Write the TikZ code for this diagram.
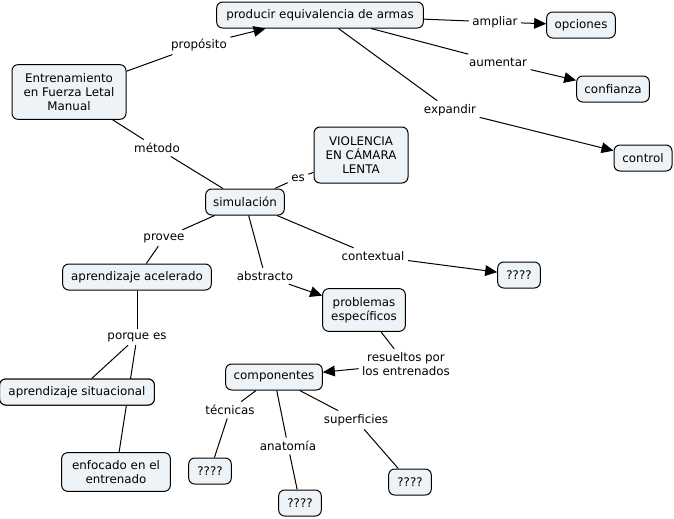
\documentclass[tikz,border=0pt]{standalone}
\usepackage{fontspec}
\setmainfont{DejaVu Sans}
\usetikzlibrary{arrows.meta}
\definecolor{boxfill}{RGB}{237,243,246}
\begin{document}
\begin{tikzpicture}[x=0.75pt,y=-0.75pt,
  concept/.style={draw=black,line width=0.75pt,fill=boxfill,rounded corners=4.5pt,
    font=\fontsize{8.9}{10.4}\selectfont,align=center,inner xsep=4pt,inner ysep=3pt,minimum height=19.5pt},
  lbl/.style={font=\fontsize{8.9}{10.4}\selectfont,align=center,inner sep=2.5pt,fill=white},
  link/.style={line width=0.75pt},
  arr/.style={line width=0.75pt,-{Triangle[length=9pt,width=8pt]}}]
\useasboundingbox (0,0) rectangle (674,518);
% labels
\node[lbl] (Lprop) at (199,45) {propósito};
\node[lbl] (Lmet) at (157,148) {método};
\node[lbl] (Les) at (298,178) {es};
\node[lbl] (Lamp) at (495,22) {ampliar};
\node[lbl] (Laum) at (498,62) {aumentar};
\node[lbl] (Lexp) at (450,110) {expandir};
\node[lbl] (Lprov) at (164,238) {provee};
\node[lbl] (Labs) at (265,276) {abstracto};
\node[lbl] (Lcon) at (373,256) {contextual};
\node[lbl] (Lpor) at (137,337) {porque es};
\node[lbl] (Lres) at (406,364) {resueltos por\\los entrenados};
\node[lbl] (Ltec) at (230,410) {técnicas};
\node[lbl] (Lana) at (288,446) {anatomía};
\node[lbl] (Lsup) at (356,420) {superficies};
% concepts
\node[concept,minimum width=85.5pt,minimum height=41pt] (ent) at (69,92) {Entrenamiento\\en Fuerza Letal\\Manual};
\node[concept,minimum width=155pt] (prod) at (320,15) {producir equivalencia de armas};
\node[concept,minimum width=51.5pt] (opc) at (581,25) {opciones};
\node[concept,minimum width=54.5pt] (conf) at (613,89) {confianza};
\node[concept,minimum width=43.5pt] (ctrl) at (643,158) {control};
\node[concept,minimum width=70.5pt,minimum height=42pt] (viol) at (361,155) {VIOLENCIA\\EN CÁMARA\\LENTA};
\node[concept,minimum width=59pt] (sim) at (245,202) {simulación};
\node[concept,minimum width=111.5pt] (acel) at (137,277) {aprendizaje acelerado};
\node[concept,minimum width=62pt,minimum height=32pt] (prob) at (364,310) {problemas\\específicos};
\node[concept,minimum width=32pt] (q1) at (519,275) {????};
\node[concept,minimum width=116pt] (sit) at (77,392) {aprendizaje situacional};
\node[concept,minimum width=72.5pt] (comp) at (274,377) {componentes};
\node[concept,minimum width=81.5pt,minimum height=29pt] (enf) at (116,472) {enfocado en el\\entrenado};
\node[concept,minimum width=32pt] (q2) at (210,471) {????};
\node[concept,minimum width=32pt] (q3) at (300,503) {????};
\node[concept,minimum width=32pt] (q4) at (410,482) {????};
% connectors
\draw[link] (ent) -- (Lprop); \draw[arr] (Lprop) -- (prod);
\draw[link] (prod) -- (Lamp); \draw[arr] (Lamp) -- (opc);
\draw[link] (prod) -- (Laum); \draw[arr] (Laum) -- (conf);
\draw[link] (prod) -- (Lexp); \draw[arr] (Lexp) -- (ctrl);
\draw[link] (ent) -- (Lmet); \draw[link] (Lmet) -- (sim);
\draw[link] (sim) -- (Les); \draw[link] (Les) -- (viol);
\draw[link] (sim) -- (Lprov); \draw[link] (Lprov) -- (acel);
\draw[link] (sim) -- (Labs); \draw[arr] (Labs) -- (prob);
\draw[link] (sim) -- (Lcon); \draw[arr] (Lcon) -- (q1);
\draw[link] (acel) -- (Lpor); \draw[link] (Lpor) -- (sit);
\draw[link] (Lpor) -- (enf);
\draw[link] (prob) -- (Lres); \draw[arr] (Lres) -- (comp);
\draw[link] (comp) -- (Ltec); \draw[link] (Ltec) -- (q2);
\draw[link] (comp) -- (Lana); \draw[link] (Lana) -- (q3);
\draw[link] (comp) -- (Lsup); \draw[link] (Lsup) -- (q4);
% redraw situacional box over the line passing behind it
\node[concept,minimum width=116pt] at (77,392) {aprendizaje situacional};
\end{tikzpicture}
\end{document}
